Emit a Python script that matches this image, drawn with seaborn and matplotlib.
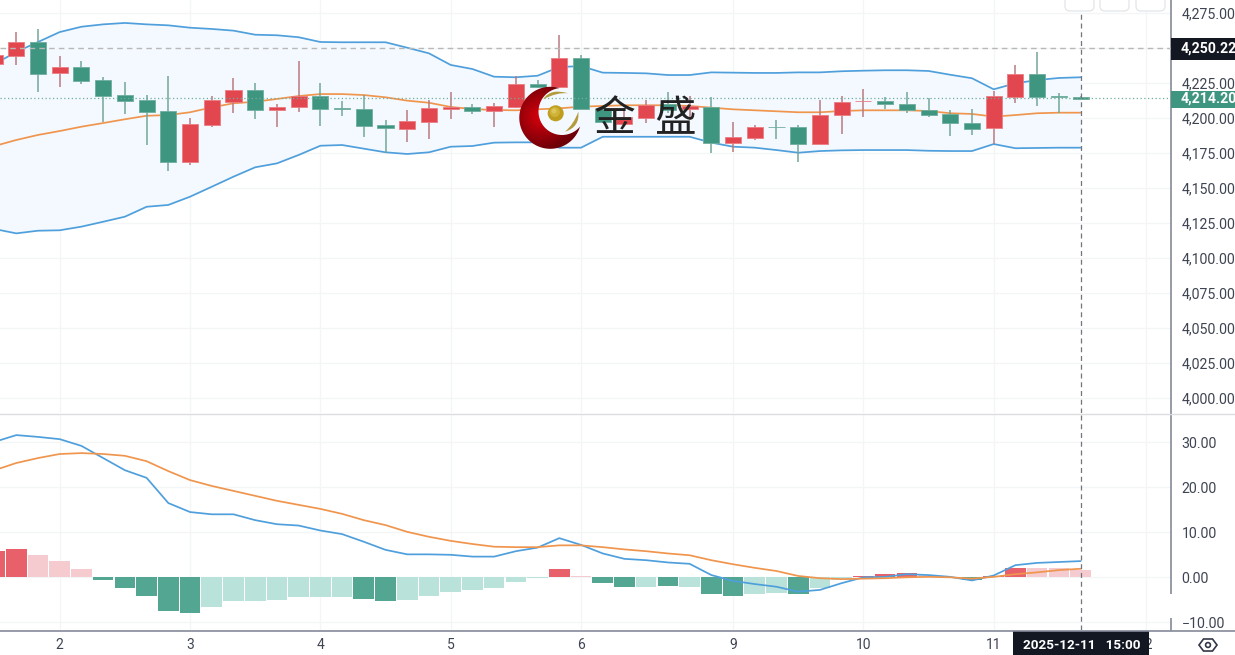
import numpy as np
import pandas as pd
import matplotlib
matplotlib.use("Agg")
import matplotlib.pyplot as plt
from matplotlib.patches import Circle, Rectangle, FancyBboxPatch, PathPatch, Polygon
from matplotlib.path import Path
from matplotlib.ticker import FuncFormatter
import seaborn as sns

day_labels = ["2", "3", "4", "5", "6", "9", "10", "11", "12"]
day_positions = [3, 9, 15, 21, 27, 34, 40, 46, 53]
price_ticks = [4000, 4025, 4050, 4075, 4100, 4125, 4150, 4175, 4200, 4225, 4250, 4275]
macd_ticks = [-10, 0, 10, 20, 30]
high_mark = 4250.22
last_price = 4214.20
crosshair_label = "2025-12-11   15:00"
logo_text = ["金", "盛"]

opens = [4238.6, 4244.5, 4254.1, 4231.9, 4236.4, 4226.9, 4216.2, 4212.6, 4204.8, 4168.4,
         4195.0, 4211.6, 4220.2, 4205.5, 4207.9, 4215.7, 4206.9, 4206.4, 4194.8, 4192.4,
         4197.4, 4206.6, 4208.1, 4205.2, 4208.1, 4224.1, 4222.4, 4243.1, 4206.6, 4195.7,
         4200.2, 4210.0, 4206.2, 4207.6, 4181.9, 4185.9, 4193.8, 4193.8, 4181.4, 4202.1,
         4211.8, 4211.9, 4210.2, 4205.9, 4202.6, 4196.6, 4193.1, 4215.2, 4231.4, 4215.5, 4214.8]
closes = [4244.8, 4254.1, 4231.4, 4236.6, 4226.4, 4215.9, 4212.1, 4204.1, 4168.6, 4195.5,
          4212.6, 4220.2, 4205.7, 4208.1, 4215.7, 4206.6, 4206.6, 4194.5, 4192.6, 4197.6,
          4207.2, 4208.1, 4205.2, 4208.6, 4224.1, 4222.4, 4243.1, 4206.6, 4197.1, 4200.5,
          4209.3, 4205.7, 4208.6, 4181.9, 4186.4, 4193.8, 4193.5, 4181.4, 4202.1, 4211.4,
          4212.1, 4210.0, 4205.5, 4202.1, 4196.2, 4192.4, 4215.7, 4231.4, 4215.2, 4215.3, 4213.4]
highs = [4248.6, 4261.6, 4263.8, 4244.3, 4240.9, 4229.1, 4225.7, 4216.4, 4230.0, 4200.0,
         4215.7, 4228.6, 4224.8, 4210.0, 4240.9, 4224.8, 4212.4, 4216.4, 4198.6, 4205.7,
         4212.9, 4218.6, 4210.0, 4210.5, 4230.0, 4227.1, 4259.1, 4245.2, 4207.9, 4207.2,
         4212.9, 4218.8, 4215.7, 4214.8, 4197.1, 4194.8, 4198.6, 4195.0, 4212.9, 4215.7,
         4220.7, 4215.2, 4218.4, 4214.1, 4205.7, 4206.4, 4219.3, 4238.1, 4247.4, 4217.6, 4215.7]
lows = [4237.1, 4237.9, 4218.8, 4222.4, 4224.3, 4197.4, 4202.9, 4180.5, 4162.4, 4166.2,
        4193.8, 4203.8, 4199.5, 4193.8, 4204.5, 4194.5, 4201.6, 4186.6, 4174.8, 4182.6,
        4184.8, 4199.1, 4202.9, 4193.8, 4207.2, 4221.4, 4221.4, 4206.2, 4196.6, 4195.0,
        4196.6, 4203.6, 4198.6, 4175.2, 4175.9, 4184.3, 4185.2, 4168.8, 4181.4, 4188.6,
        4200.5, 4206.6, 4203.4, 4200.9, 4187.1, 4188.1, 4181.4, 4210.5, 4208.8, 4203.8, 4213.4]

boll_upper = [4238.6, 4247.2, 4254.3, 4261.4, 4265.2, 4266.9, 4267.9, 4266.9, 4266.2, 4264.5,
              4263.6, 4262.4, 4259.5, 4259.1, 4257.7, 4254.3, 4254.1, 4254.1, 4254.1, 4250.2,
              4246.2, 4237.9, 4235.0, 4229.5, 4229.1, 4230.2, 4236.4, 4237.1, 4232.4, 4232.2,
              4231.9, 4230.7, 4230.7, 4232.6, 4232.4, 4232.2, 4232.2, 4232.6, 4232.6, 4233.4,
              4233.8, 4234.1, 4234.1, 4233.6, 4230.9, 4228.4, 4220.5, 4224.8, 4227.1, 4228.6, 4229.1]
boll_mid = [4180.0, 4184.3, 4187.9, 4190.7, 4193.8, 4196.4, 4199.1, 4201.6, 4202.1, 4204.1,
            4207.6, 4210.5, 4211.6, 4213.6, 4215.7, 4217.1, 4217.1, 4216.4, 4214.8, 4212.4,
            4210.9, 4207.9, 4206.4, 4205.7, 4205.5, 4206.2, 4206.9, 4208.1, 4208.6, 4209.1,
            4209.1, 4209.1, 4208.6, 4207.4, 4206.2, 4205.5, 4204.8, 4204.1, 4204.1, 4205.0,
            4205.5, 4205.5, 4205.5, 4205.0, 4203.4, 4202.9, 4201.0, 4202.1, 4203.4, 4203.8, 4203.8]
boll_lower = [4120.7, 4117.6, 4119.5, 4119.8, 4122.4, 4125.9, 4129.5, 4136.6, 4137.9, 4143.8,
              4150.9, 4158.1, 4164.8, 4167.6, 4173.6, 4180.2, 4180.7, 4178.1, 4175.5, 4174.3,
              4175.5, 4179.5, 4180.0, 4182.4, 4182.6, 4182.6, 4178.8, 4178.8, 4186.6, 4186.6,
              4186.6, 4186.6, 4186.6, 4182.4, 4179.5, 4178.8, 4177.1, 4175.2, 4176.4, 4176.9,
              4177.1, 4177.1, 4177.1, 4176.6, 4176.4, 4176.4, 4181.4, 4178.4, 4178.6, 4178.8, 4178.8]

macd_hist = [5.9, 6.4, 4.9, 3.6, 1.8, -0.6, -2.4, -4.1, -7.4, -7.9,
             -6.7, -5.3, -5.3, -5.1, -4.3, -4.3, -4.3, -4.8, -5.3, -5.0,
             -4.1, -3.3, -2.9, -2.4, -1.0, -0.2, 1.8, 0.3, -1.3, -2.2,
             -2.1, -2.0, -2.1, -3.6, -4.1, -3.7, -3.4, -3.7, -2.4, -0.7,
             0.2, 0.7, 0.9, 0.5, 0.1, -0.7, 0.4, 2.1, 2.1, 2.0, 1.6]
hist_class = ["ud", "ud", "ul", "ul", "ul", "dd", "dd", "dd", "dd", "dd",
              "dl", "dl", "dl", "dl", "dl", "dl", "dl", "dd", "dd", "dl",
              "dl", "dl", "dl", "dl", "dl", "dl", "ud", "ul", "dd", "dd",
              "dl", "dd", "dl", "dd", "dd", "dl", "dl", "dd", "dl", "dl",
              "ud", "ud", "ud", "ul", "ul", "dd", "ud", "ud", "ul", "ul", "ul"]
macd_dif = [30.1, 31.6, 31.2, 30.7, 29.2, 26.5, 23.8, 22.1, 16.5, 14.5,
            14.0, 14.0, 12.7, 11.8, 11.5, 10.4, 9.6, 7.9, 6.1, 5.1,
            5.1, 5.0, 4.6, 4.6, 5.8, 6.6, 8.7, 7.2, 5.3, 4.1,
            3.8, 3.3, 3.0, 0.5, -0.8, -1.5, -2.1, -3.2, -2.8, -1.3,
            0.0, 0.1, 0.7, 0.5, 0.1, -0.7, 0.4, 2.7, 3.2, 3.4, 3.6]
macd_dea = [23.8, 25.4, 26.5, 27.4, 27.6, 27.4, 27.0, 25.8, 23.6, 21.6,
            20.3, 19.2, 18.1, 17.0, 16.1, 15.2, 14.1, 12.7, 11.6, 10.1,
            9.0, 8.1, 7.4, 6.8, 6.7, 6.7, 7.1, 7.1, 6.7, 6.2,
            5.8, 5.3, 4.9, 3.8, 2.9, 2.1, 1.4, 0.3, -0.2, -0.4,
            -0.3, -0.2, 0.0, 0.1, 0.0, -0.3, 0.1, 0.7, 1.1, 1.6, 1.9]

RED, GREEN = "#e2474f", "#3f9680"
RED_WICK, GREEN_WICK = "#b97a80", "#73a698"
BLUE, ORANGE = "#4f9fdc", "#f0954e"
GRID = "#f4f5f7"
TEXT = "#3f4452"
AXIS = "#858a98"
DARK = "#131722"

sns.set_theme(style="white")
plt.rcParams["font.family"] = ["Roboto", "Noto Sans CJK SC", "DejaVu Sans"]

W, H = 1235, 655
fig = plt.figure(figsize=(W / 100, H / 100), dpi=100, facecolor="white")
def px_axes(x0, y0, x1, y1):
    return fig.add_axes([x0 / W, 1 - y1 / H, (x1 - x0) / W, (y1 - y0) / H])

ax_p = px_axes(0, 0, 1170.5, 413)
ax_m = px_axes(0, 414, 1170.5, 630)
XLIM = (0.25, 54.14)

idx = np.arange(len(opens))
o, c, hi, lo = map(np.array, (opens, closes, highs, lows))
up = c >= o

# ---------- price panel ----------
ax_p.fill_between(idx, boll_lower, boll_upper, color="#f3f9fe", lw=0, zorder=1)
for vals, col in ((boll_upper, BLUE), (boll_lower, BLUE), (boll_mid, ORANGE)):
    sns.lineplot(x=idx, y=vals, ax=ax_p, color=col, lw=1.25, errorbar=None, sort=False, zorder=2)
ax_p.vlines(idx[up], lo[up], hi[up], color=RED_WICK, lw=1.1, zorder=3)
ax_p.vlines(idx[~up], lo[~up], hi[~up], color=GREEN_WICK, lw=1.1, zorder=3)
ax_p.bar(idx[up], (c - o)[up], bottom=o[up], width=0.74, color=RED,
         edgecolor="#eb7d83", lw=0.6, zorder=4)
ax_p.bar(idx[~up], (o - c)[~up], bottom=c[~up], width=0.74, color=GREEN,
         edgecolor="#6fae9e", lw=0.6, zorder=4)
ax_p.axhline(high_mark, color="#b8b8b8", lw=1, dashes=(4, 3), zorder=5)
ax_p.axhline(last_price, color="#6fae9e", lw=0.9, dashes=(1, 2), zorder=5)
ax_p.set_xlim(*XLIM)
ax_p.set_ylim(3989.29, 4284.29)
ax_p.set_yticks(price_ticks)
ax_p.yaxis.set_major_formatter(FuncFormatter(lambda v, _: f"{v:,.2f}"))

# ---------- MACD panel ----------
df = pd.DataFrame({"i": idx, "hist": macd_hist, "cls": hist_class})
sns.barplot(data=df, x="i", y="hist", hue="cls", native_scale=True, dodge=False,
            palette={"ud": "#e8606a", "ul": "#f5cbcf", "dd": "#53a692", "dl": "#b9e3da"},
            width=0.95, saturation=1, legend=False, linewidth=0, ax=ax_m, zorder=2)
sns.lineplot(x=idx, y=macd_dif, ax=ax_m, color=BLUE, lw=1.25, errorbar=None, sort=False, zorder=4)
sns.lineplot(x=idx, y=macd_dea, ax=ax_m, color=ORANGE, lw=1.25, errorbar=None, sort=False, zorder=4)
ax_m.set_xlim(*XLIM)
ax_m.set_ylim(-11.71, 36.29)
ax_m.set_yticks(macd_ticks)
ax_m.yaxis.set_major_formatter(FuncFormatter(lambda v, _: f"{v:.2f}".replace("-", "\u2212")))
ax_m.set_xlabel("")
ax_m.set_ylabel("")

for ax in (ax_p, ax_m):
    ax.set_xticks(day_positions)
    ax.grid(True, color=GRID, lw=1)
    ax.set_axisbelow(True)
    ax.yaxis.tick_right()
    ax.tick_params(axis="y", length=0, pad=8, labelsize=10.2, labelcolor=TEXT)
    ax.tick_params(axis="x", length=0, labelsize=10, labelcolor=TEXT, pad=6)
    for s in ("top", "left", "bottom"):
        ax.spines[s].set_visible(False)
    ax.spines["right"].set_color(AXIS)
    ax.spines["right"].set_linewidth(1.2)
    ax.axvline(idx[-1], color="#70757f", lw=0.9, dashes=(4, 3), zorder=6)
ax_p.tick_params(axis="x", labelbottom=False)
ax_m.set_xticklabels(day_labels)

# ---------- overlay: frame, value tags, logo ----------
ov = fig.add_axes([0, 0, 1, 1], zorder=10)
ov.axis("off")
ov.patch.set_alpha(0)

ov.plot([0, W], [413.5, 413.5], color="#dcdde0", lw=1)
ov.plot([0, W], [630.5, 630.5], color=AXIS, lw=1.2)
ov.add_patch(Rectangle((1168, 594), 5, 24, fc="white", ec="none"))

for x0 in (1065, 1100, 1136):
    ov.add_patch(FancyBboxPatch((x0 + 5, -10), 19, 16, boxstyle="round,pad=5",
                                fc="white", ec="#e3e5ea", lw=0.9))

ov.add_patch(Rectangle((1171, 38), 64, 22, fc=DARK, ec="none"))
ov.text(1181, 48.5, f"{high_mark:,.2f}", color="white", fontsize=10.2, fontweight="bold",
        va="center", ha="left", clip_on=True)
ov.add_patch(Rectangle((1171, 90.5), 64, 17, fc=GREEN, ec="none"))
ov.text(1181, 98.5, f"{last_price:,.2f}", color="white", fontsize=10.2, fontweight="bold",
        va="center", ha="left", clip_on=True)
ov.add_patch(Rectangle((1013, 631), 136, 24, fc=DARK, ec="none"))
ov.text(1023, 645.5, crosshair_label, color="white", fontsize=9.7, fontweight="bold",
        va="center", ha="left")

ov.add_patch(Polygon([(1199, 645), (1203.5, 639), (1212.5, 639), (1217, 645),
                      (1212.5, 651), (1203.5, 651)], closed=True, fc="none", ec="#333846", lw=1.2))
ov.add_patch(Circle((1208, 645), 2.4, fc="none", ec="#333846", lw=1.2))

# logo: crescent with radial shading, see-through interior
cx, cy, R = 550.3, 117.8, 31.0
ix, iy, r_in = 562.0, 111.5, 23.5
th = np.linspace(0, 2 * np.pi, 721)
ox, oy = cx + R * np.cos(th), cy + R * np.sin(th)
outside = np.hypot(ox - ix, oy - iy) > r_in
k = int(np.argmin(outside))
ox, oy, outside = np.roll(ox, -k), np.roll(oy, -k), np.roll(outside, -k)
ox, oy = ox[outside], oy[outside]
a0 = np.arctan2(oy[-1] - iy, ox[-1] - ix)
a1 = np.arctan2(oy[0] - iy, ox[0] - ix)
if a1 > a0:
    a1 -= 2 * np.pi
t2 = np.linspace(a0, a1, 200)
crescent = Polygon(np.column_stack([np.r_[ox, ix + r_in * np.cos(t2)],
                                    np.r_[oy, iy + r_in * np.sin(t2)]]),
                   closed=True, fc="none", ec="none")
ov.add_patch(crescent)
gx, gy = np.meshgrid(np.linspace(518, 583, 130), np.linspace(86, 150, 128))
shade = np.clip(np.hypot(gx - 541, gy - 116) / 33, 0, 1)
rgb = np.dstack([0.86 - 0.42 * shade, 0.0 * shade, 0.05 - 0.02 * shade])
img = ov.imshow(rgb, extent=(518, 583, 150, 86), aspect="auto", interpolation="bilinear")
img.set_clip_path(crescent)
ov.set_xlim(0, W)
ov.set_ylim(H, 0)

ov.add_patch(Circle((555.7, 113.3), 8, fc="#bf9d1e", ec="none"))
ov.add_patch(Circle((554.8, 112), 5, fc="#cfb238", ec="none"))
ov.add_patch(Circle((554, 111), 2.5, fc="#dcc65a", ec="none"))
gold = "#b39a3a"
ov.add_patch(PathPatch(Path([(543.3, 99.3), (550, 88), (568.3, 93.3), (557, 92), (543.3, 99.3)],
                            [Path.MOVETO, Path.CURVE3, Path.CURVE3, Path.CURVE3, Path.CURVE3]),
                       fc=gold, ec="none"))
ov.add_patch(PathPatch(Path([(578.3, 111.7), (580, 127), (565, 131.7), (574, 124), (578.3, 111.7)],
                            [Path.MOVETO, Path.CURVE3, Path.CURVE3, Path.CURVE3, Path.CURVE3]),
                       fc=gold, ec="none"))
ov.text(615, 119.5, logo_text[0], fontsize=30, color="#222222", ha="center", va="center",
        family=["Noto Sans CJK SC", "DejaVu Sans"])
ov.text(675, 119.5, logo_text[1], fontsize=30, color="#222222", ha="center", va="center",
        family=["Noto Sans CJK SC", "DejaVu Sans"])

fig.savefig("out.png", dpi=100, facecolor="white")
